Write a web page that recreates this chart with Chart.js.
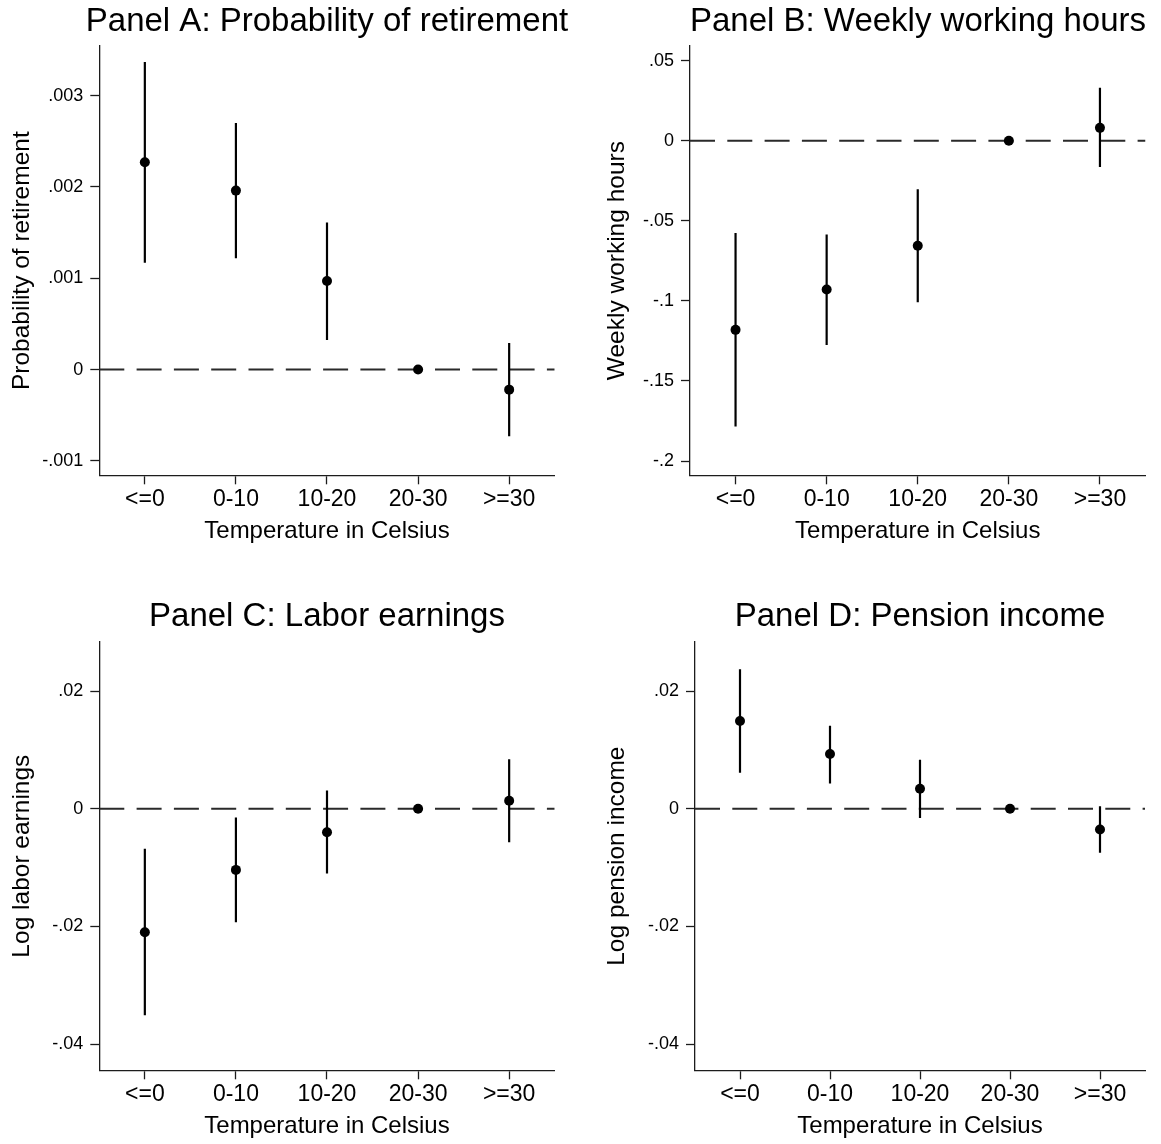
<!DOCTYPE html>
<html>
<head>
<meta charset="utf-8">
<title>Temperature effects on retirement and labor outcomes</title>
<script src="https://cdn.jsdelivr.net/npm/chart.js@4.4.1/dist/chart.umd.min.js"></script>
<style>
  html, body { margin: 0; padding: 0; background: #fff; overflow: hidden; }
  #wrap { position: relative; width: 1161px; height: 1144px; background: #fff; overflow: hidden; }
  #wrap canvas { position: absolute; }
</style>
</head>
<body>
<div id="wrap">
  <canvas id="panelA" width="654" height="560" style="left:0px;top:0px"></canvas>
  <canvas id="panelB" width="676" height="560" style="left:580px;top:0px"></canvas>
  <canvas id="panelC" width="654" height="572" style="left:0px;top:572px"></canvas>
  <canvas id="panelD" width="680" height="572" style="left:580px;top:572px"></canvas>
</div>
<script>
// Temperature bins (x categories)
const categories = ['<=0', '0-10', '10-20', '20-30', '>=30'];

// Panel A: probability of retirement (20-30 is the reference bin)
const retireCoef = [0.00227, 0.00196, 0.00097, 0, -0.00022];
const retireLow  = [0.00117, 0.00122, 0.000325, null, -0.00073];
const retireHigh = [0.00337, 0.00270, 0.00161, null, 0.00029];
const retireTicks = [-0.001, 0, 0.001, 0.002, 0.003];
const retireTickLabels = ['-.001', '0', '.001', '.002', '.003'];
const retireRange = [-0.001158, 0.003544];

// Panel B: weekly working hours
const hoursCoef = [-0.1181, -0.0929, -0.0656, 0, 0.0080];
const hoursLow  = [-0.1785, -0.1275, -0.1009, null, -0.0165];
const hoursHigh = [-0.0576, -0.0585, -0.0304, null, 0.0330];
const hoursTicks = [-0.2, -0.15, -0.1, -0.05, 0, 0.05];
const hoursTickLabels = ['-.2', '-.15', '-.1', '-.05', '0', '.05'];
const hoursRange = [-0.2089, 0.0591];

// Panel C: log labor earnings
const earnCoef = [-0.0210, -0.0104, -0.0040, 0, 0.00135];
const earnLow  = [-0.0351, -0.0193, -0.0110, null, -0.0057];
const earnHigh = [-0.0068, -0.0015, 0.0031, null, 0.0084];
const earnTicks = [-0.04, -0.02, 0, 0.02];
const earnTickLabels = ['-.04', '-.02', '0', '.02'];
const earnRange = [-0.04446, 0.02833];

// Panel D: log pension income
const pensionCoef = [0.0149, 0.0093, 0.0034, 0, -0.00355];
const pensionLow  = [0.0061, 0.0043, -0.0016, null, -0.0075];
const pensionHigh = [0.0237, 0.0141, 0.0083, null, 0.0004];
const pensionTicks = [-0.04, -0.02, 0, 0.02];
const pensionTickLabels = ['-.04', '-.02', '0', '.02'];
const pensionRange = [-0.04446, 0.02833];

const FONT = "'Liberation Sans', Arial, Helvetica, sans-serif";
const AXIS_COLOR = '#1c1c1c';

// Vertical confidence-interval segments, one per bin, separated by gaps
function intervalSegments(low, high) {
  const pts = [];
  low.forEach((l, i) => {
    if (l === null || high[i] === null) return;
    pts.push({ x: i + 1, y: l }, { x: i + 1, y: high[i] }, { x: i + 1, y: null });
  });
  return pts;
}

function axisGrid() {
  return {
    display: true,
    drawOnChartArea: false,
    drawTicks: true,
    tickLength: 9,
    tickColor: AXIS_COLOR,
    tickWidth: 1.3
  };
}

function drawPanel(id, p) {
  const xMin = 0.5;
  const xMax = categories.length + 0.5;
  new Chart(document.getElementById(id), {
    type: 'line',
    data: {
      datasets: [
        {
          type: 'scatter',
          yAxisID: 'y',
          data: p.coef.map((v, i) => ({ x: i + 1, y: v })),
          showLine: false,
          pointRadius: 5,
          pointBackgroundColor: '#000',
          pointBorderColor: '#000',
          pointBorderWidth: 0,
          order: 0
        },
        {
          type: 'line',
          yAxisID: 'y',
          data: intervalSegments(p.low, p.high),
          borderColor: '#000',
          borderWidth: 2.2,
          pointRadius: 0,
          spanGaps: false,
          order: 1
        },
        {
          type: 'line',
          yAxisID: 'y',
          data: [{ x: xMin, y: 0 }, { x: xMax, y: 0 }],
          borderColor: '#2a2a2a',
          borderWidth: 2,
          borderDash: [25, 12.3],
          pointRadius: 0,
          order: 2
        }
      ]
    },
    options: {
      responsive: false,
      animation: false,
      events: [],
      layout: { padding: 0 },
      plugins: {
        legend: { display: false },
        tooltip: { enabled: false },
        title: {
          display: true,
          text: p.title,
          color: '#000',
          font: { family: FONT, size: 33, weight: 'normal', lineHeight: 1.2 },
          padding: { top: p.titleTop, bottom: p.titleBottom }
        }
      },
      scales: {
        x: {
          type: 'linear',
          min: xMin,
          max: xMax,
          afterBuildTicks: s => { s.ticks = categories.map((c, i) => ({ value: i + 1 })); },
          afterFit: s => { s.height = p.xHeight; },
          ticks: {
            callback: (v, i) => categories[i],
            color: '#000',
            font: { family: FONT, size: 23, lineHeight: 1.2 },
            padding: 1.5,
            maxRotation: 0,
            autoSkip: false
          },
          grid: axisGrid(),
          border: { display: true, color: AXIS_COLOR, width: 1.3 },
          title: {
            display: true,
            text: 'Temperature in Celsius',
            color: '#000',
            font: { family: FONT, size: 24, lineHeight: 1.2 },
            padding: { top: 0, bottom: p.xTitleBottom }
          }
        },
        y: {
          type: 'linear',
          position: 'left',
          min: p.range[0],
          max: p.range[1],
          afterBuildTicks: s => { s.ticks = p.ticks.map(v => ({ value: v })); },
          afterFit: s => { s.width = p.yWidth; },
          ticks: {
            callback: (v, i) => p.tickLabels[i],
            color: '#000',
            font: { family: FONT, size: 18, lineHeight: 1.2 },
            padding: 7,
            autoSkip: false
          },
          grid: axisGrid(),
          border: { display: true, color: AXIS_COLOR, width: 1.3 },
          title: {
            display: true,
            text: p.yTitle,
            color: '#000',
            font: { family: FONT, size: 24.5, lineHeight: 1.2 },
            padding: { top: p.yTitleTop, bottom: 0 }
          }
        },
        // empty right-hand margin so the panel title centres over the plot area
        margin: {
          type: 'linear',
          axis: 'y',
          position: 'right',
          display: true,
          ticks: { display: false },
          grid: { display: false, drawTicks: false },
          border: { display: false },
          afterFit: s => { s.width = p.rightMargin; }
        }
      }
    }
  });
}

const topRow = { titleTop: 1.7, titleBottom: 4.7, xHeight: 84.7, xTitleBottom: 14.6 };
const bottomRow = { titleTop: 25.2, titleBottom: 5.2, xHeight: 73.7, xTitleBottom: 3.6 };

drawPanel('panelA', Object.assign({}, topRow, {
  title: 'Panel A: Probability of retirement',
  yTitle: 'Probability of retirement',
  coef: retireCoef, low: retireLow, high: retireHigh,
  ticks: retireTicks, tickLabels: retireTickLabels, range: retireRange,
  yWidth: 99.3, yTitleTop: 7.8, rightMargin: 99.3
}));

drawPanel('panelB', Object.assign({}, topRow, {
  title: 'Panel B: Weekly working hours',
  yTitle: 'Weekly working hours',
  coef: hoursCoef, low: hoursLow, high: hoursHigh,
  ticks: hoursTicks, tickLabels: hoursTickLabels, range: hoursRange,
  yWidth: 110, yTitleTop: 22.5, rightMargin: 110.5
}));

drawPanel('panelC', Object.assign({}, bottomRow, {
  title: 'Panel C: Labor earnings',
  yTitle: 'Log labor earnings',
  coef: earnCoef, low: earnLow, high: earnHigh,
  ticks: earnTicks, tickLabels: earnTickLabels, range: earnRange,
  yWidth: 99.3, yTitleTop: 7.8, rightMargin: 99.3
}));

drawPanel('panelD', Object.assign({}, bottomRow, {
  title: 'Panel D: Pension income',
  yTitle: 'Log pension income',
  coef: pensionCoef, low: pensionLow, high: pensionHigh,
  ticks: pensionTicks, tickLabels: pensionTickLabels, range: pensionRange,
  yWidth: 115, yTitleTop: 22.5, rightMargin: 115
}));
</script>
</body>
</html>
